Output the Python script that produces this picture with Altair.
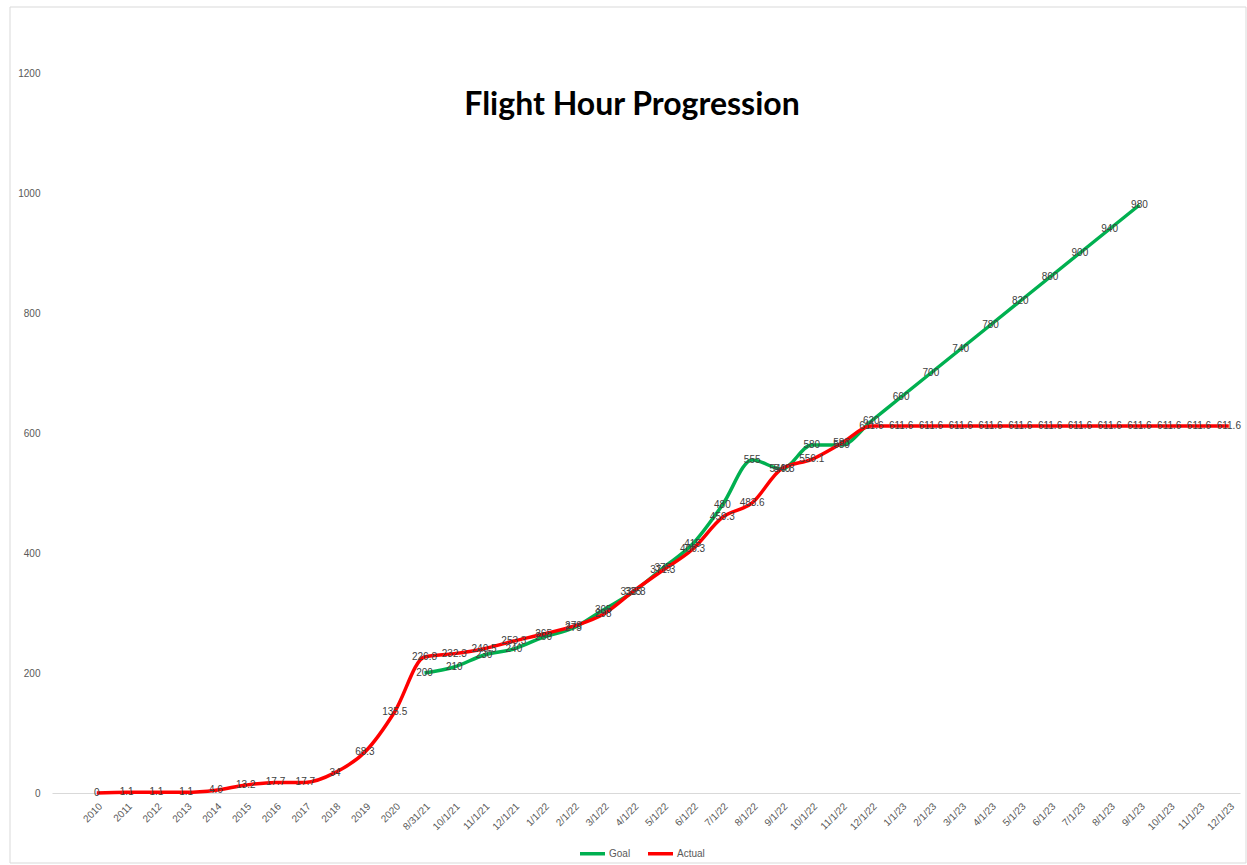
import altair as alt
import pandas as pd

categories = ["2010", "2011", "2012", "2013", "2014", "2015", "2016", "2017", "2018", "2019", "2020",
              "8/31/21", "10/1/21", "11/1/21", "12/1/21",
              "1/1/22", "2/1/22", "3/1/22", "4/1/22", "5/1/22", "6/1/22", "7/1/22", "8/1/22",
              "9/1/22", "10/1/22", "11/1/22", "12/1/22",
              "1/1/23", "2/1/23", "3/1/23", "4/1/23", "5/1/23", "6/1/23", "7/1/23", "8/1/23",
              "9/1/23", "10/1/23", "11/1/23", "12/1/23"]

goal = [None] * 11 + [200, 210, 230, 240,
                      260, 275, 305, 335, 375, 415, 480, 555,
                      540, 580, 580, 620,
                      660, 700, 740, 780, 820, 860, 900, 940,
                      980, None, None, None]

actual = [0, 1.1, 1.1, 1.1, 4.6, 13.2, 17.7, 17.7, 34, 68.3, 135.5,
          226.8, 232.3, 240.5, 253.3,
          265, 278, 298, 335.8, 371.3, 406.3, 459.3, 483.6,
          540.8, 556.1, 583, 611.6,
          611.6, 611.6, 611.6, 611.6, 611.6, 611.6, 611.6, 611.6,
          611.6, 611.6, 611.6, 611.6]

rows = []
for i, c in enumerate(categories):
    if goal[i] is not None:
        rows.append({"cat": c, "series": "Goal", "value": goal[i], "label": f"{goal[i]:g}"})
    rows.append({"cat": c, "series": "Actual", "value": actual[i], "label": f"{actual[i]:g}"})
df = pd.DataFrame(rows)

W, H = 1188, 720

x_enc = alt.X("cat:O", sort=categories,
              scale=alt.Scale(type="point", padding=0.94, align=0.8),
              axis=alt.Axis(title=None, labelAngle=-45, labelFontSize=10, labelColor="#595959",
                            labelFont="Liberation Sans", ticks=False, domainColor="#D9D9D9",
                            domainWidth=1, labelPadding=8, grid=False))
y_enc = alt.Y("value:Q", scale=alt.Scale(domain=[0, 1200], nice=False),
              axis=alt.Axis(title=None, values=[0, 200, 400, 600, 800, 1000, 1200], format="d",
                            labelFontSize=10, labelColor="#595959", labelFont="Liberation Sans",
                            ticks=False, domain=False, grid=False, labelPadding=12))
color_enc = alt.Color("series:N", scale=alt.Scale(domain=["Goal", "Actual"], range=["#00B050", "#FF0000"]),
                      legend=alt.Legend(title=None, orient="none", legendX=526, legendY=766,
                                        direction="horizontal", symbolType="stroke", symbolSize=625,
                                        symbolStrokeWidth=3.5, labelFontSize=10, labelColor="#595959",
                                        labelFont="Liberation Sans", labelOffset=2, columnPadding=10))

base = alt.Chart(df)

goal_line = base.transform_filter(alt.datum.series == "Goal").mark_line(
    strokeWidth=3.5, interpolate="monotone").encode(x=x_enc, y=y_enc, color=color_enc)
actual_line = base.transform_filter(alt.datum.series == "Actual").mark_line(
    strokeWidth=3.5, interpolate="monotone").encode(x=x_enc, y=y_enc, color=color_enc)

labels = base.mark_text(fontSize=10, font="Liberation Sans Narrow, Liberation Sans", color="#404040",
                        baseline="middle", align="center").encode(
    x=x_enc, y=y_enc, text="label:N")

border = alt.Chart(pd.DataFrame({"a": [0]})).mark_rect(
    fill="transparent", stroke="#D9D9D9", strokeWidth=1).encode(
    x=alt.value(-42), x2=alt.value(1246 - 52), y=alt.value(-66), y2=alt.value(790))

title = alt.Chart(pd.DataFrame({"t": ["Flight Hour Progression"]})).mark_text(
    font="Lato", fontSize=32, fontWeight="bold", color="#000000",
    align="center", baseline="middle").encode(
    x=alt.value(632 - 52), y=alt.value(105 - 73), text="t:N")

chart = alt.layer(border, goal_line, actual_line, labels, title).properties(
    width=W, height=H,
    background="white",
    autosize=alt.AutoSizeParams(type="none"),
    padding={"left": 52, "top": 73, "right": 7, "bottom": 72},
).configure_view(strokeWidth=0, stroke="transparent")

chart.save("out.html", embed_options={"renderer": "svg", "actions": False})
